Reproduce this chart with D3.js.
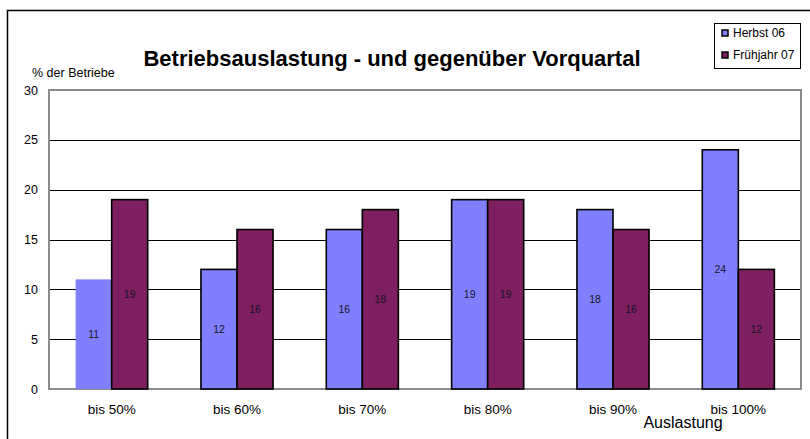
<!DOCTYPE html>
<html lang="de">
<head>
<meta charset="UTF-8">
<title>Betriebsauslastung</title>
<style>
    body { margin: 0; background: #fff; }
    text { font-family: "Liberation Sans", Arial, sans-serif; fill: #000; }
    .title { font-weight: bold; font-size: 22px; }
    .grid-line { stroke: #000; stroke-width: 1px; shape-rendering: crispEdges; }
    .plot-frame { fill: none; stroke: #8c8c8c; stroke-width: 2px; }
    .bar { stroke: #000; stroke-width: 1.6px; }
    .bar-label { font-size: 10.5px; fill: #14142a; }
    .tick-label { font-size: 12.5px; }
    .cat-label { font-size: 13.5px; }
    .legend-text { font-size: 12px; }
</style>
</head>
<body>
<div id="container"></div>
<script src="https://cdnjs.cloudflare.com/ajax/libs/d3/7.8.5/d3.min.js"></script>
<script>
    // chart values
    var categories = ["bis 50%", "bis 60%", "bis 70%", "bis 80%", "bis 90%", "bis 100%"];
    var seriesNames = ["Herbst 06", "Frühjahr 07"];
    var herbst06 = [11, 12, 16, 19, 18, 24];
    var fruehjahr07 = [19, 16, 18, 19, 16, 12];
    var yTicks = [0, 5, 10, 15, 20, 25, 30];
    var colors = ["#8080ff", "#7f1f5f"];

    var W = 810, H = 439;
    var margin = { top: 90, right: 9, bottom: 50, left: 49 };
    var width = W - margin.left - margin.right,
        height = 389 - margin.top;

    var svg = d3.select("#container").append("svg")
        .attr("width", W)
        .attr("height", H);

    // outer chart border (runs off the picture at right and bottom)
    svg.append("rect")
        .attr("x", 7.5).attr("y", 10.5)
        .attr("width", W).attr("height", H)
        .attr("fill", "none").attr("stroke", "#000").attr("stroke-width", 1.5);

    var g = svg.append("g")
        .attr("transform", "translate(" + margin.left + "," + margin.top + ")");

    var x0 = d3.scaleBand().domain(categories).range([0, width])
        .paddingInner(0.425).paddingOuter(0.2125);
    var x1 = d3.scaleBand().domain(seriesNames).range([0, x0.bandwidth()]);
    var y = d3.scaleLinear().domain([0, 30]).range([height, 0]);

    // grid lines
    g.append("g").selectAll("line")
        .data(yTicks.filter(function (d) { return d > 0 && d < 30; }))
        .enter().append("line")
        .attr("class", "grid-line")
        .attr("x1", 0).attr("x2", width)
        .attr("y1", function (d) { return Math.round(y(d)) + 0.5; })
        .attr("y2", function (d) { return Math.round(y(d)) + 0.5; });

    g.append("rect")
        .attr("class", "plot-frame")
        .attr("x", 0).attr("y", 0)
        .attr("width", width).attr("height", height);

    // y tick labels
    g.append("g").selectAll("text")
        .data(yTicks)
        .enter().append("text")
        .attr("class", "tick-label")
        .attr("x", -11)
        .attr("y", function (d) { return y(d); })
        .attr("dy", "0.36em")
        .attr("text-anchor", "end")
        .text(function (d) { return d; });

    // category labels
    g.append("g").selectAll("text")
        .data(categories)
        .enter().append("text")
        .attr("class", "cat-label")
        .attr("x", function (d) { return x0(d) + x0.bandwidth() / 2; })
        .attr("y", height + 25)
        .attr("text-anchor", "middle")
        .text(function (d) { return d; });

    // bars
    var rows = categories.map(function (c, i) {
        return { cat: c, values: [
            { key: seriesNames[0], value: herbst06[i], idx: 0 },
            { key: seriesNames[1], value: fruehjahr07[i], idx: 1 }
        ] };
    });

    var groups = g.append("g").selectAll("g")
        .data(rows)
        .enter().append("g")
        .attr("transform", function (d) { return "translate(" + x0(d.cat) + ",0)"; });

    groups.selectAll("rect")
        .data(function (d) { return d.values; })
        .enter().append("rect")
        .attr("class", "bar")
        .attr("x", function (d) { return x1(d.key); })
        .attr("y", function (d) { return y(d.value); })
        .attr("width", x1.bandwidth())
        .attr("height", function (d) { return height - y(d.value); })
        .attr("fill", function (d) { return colors[d.idx]; })
        .style("stroke", function (d, i, nodes) {
            // first blue bar has no outline in the original
            return (d.idx === 0 && d3.select(nodes[i].parentNode).datum().cat === categories[0]) ? "none" : null;
        });

    groups.selectAll("text")
        .data(function (d) { return d.values; })
        .enter().append("text")
        .attr("class", "bar-label")
        .attr("x", function (d) { return x1(d.key) + x1.bandwidth() / 2; })
        .attr("y", function (d) { return (y(d.value) + height) / 2; })
        .attr("dy", "0.36em")
        .attr("text-anchor", "middle")
        .text(function (d) { return d.value; });

    // title and axis titles
    svg.append("text")
        .attr("class", "title")
        .attr("x", 392).attr("y", 66)
        .attr("text-anchor", "middle")
        .text("Betriebsauslastung - und gegenüber Vorquartal");

    svg.append("text")
        .attr("x", 32).attr("y", 77)
        .style("font-size", "12.5px")
        .text("% der Betriebe");

    svg.append("text")
        .attr("x", 683).attr("y", 428)
        .attr("text-anchor", "middle")
        .style("font-size", "16px")
        .text("Auslastung");

    // legend
    var legend = svg.append("g").attr("transform", "translate(714,23)");
    legend.append("rect")
        .attr("x", 0.5).attr("y", 0.5)
        .attr("width", 86).attr("height", 45)
        .attr("fill", "#fff").attr("stroke", "#000").attr("stroke-width", 1);

    var items = legend.selectAll("g.item")
        .data(seriesNames)
        .enter().append("g")
        .attr("class", "item")
        .attr("transform", function (d, i) { return "translate(0," + (10 + i * 22) + ")"; });

    items.append("rect")
        .attr("x", 8).attr("y", -3)
        .attr("width", 6).attr("height", 6)
        .attr("fill", function (d, i) { return colors[i]; })
        .attr("stroke", "#000").attr("stroke-width", 1.5);

    items.append("text")
        .attr("class", "legend-text")
        .attr("x", 19).attr("y", 0)
        .attr("dy", "0.36em")
        .text(function (d) { return d; });
</script>
</body>
</html>
